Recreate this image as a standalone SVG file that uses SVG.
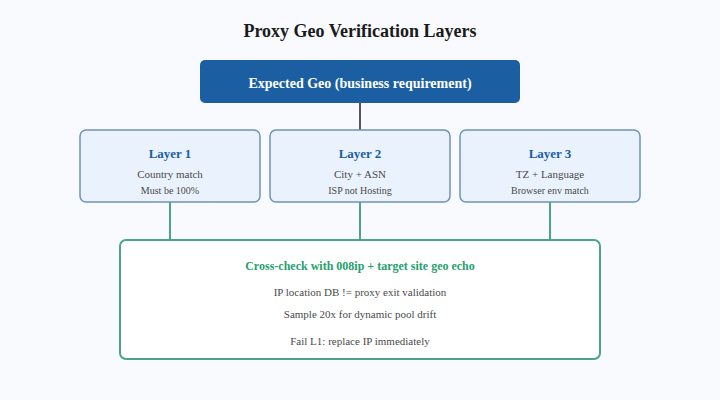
<svg xmlns="http://www.w3.org/2000/svg" width="720" height="400" viewBox="0 0 720 400">
<style>
text{font-family:"Liberation Serif","Times New Roman",serif;text-anchor:middle}
.title{font-size:18px;font-weight:bold;fill:#1a1a1a}
.top{fill:#1b5fa2}
.toptxt{font-size:14px;font-weight:bold;fill:#ffffff}
.layer{fill:#e9f2fd;stroke:#6f93b8;stroke-width:1.5}
.lt{font-size:13px;font-weight:bold;fill:#1b5fa2}
.l2{font-size:11px;fill:#4a4a4a}
.l3{font-size:10px;fill:#4a4a4a}
.bot{fill:#ffffff;stroke:#4aa585;stroke-width:2}
.bt{font-size:12px;font-weight:bold;fill:#26a06e}
.bl{font-size:11px;fill:#4a4a4a}
.gl{stroke:#4aa585;stroke-width:2;fill:none}
.dl{stroke:#555;stroke-width:2;fill:none}
</style>
<rect width="720" height="400" fill="#f8fafd"/>
<text class="title" x="360" y="37">Proxy Geo Verification Layers</text>
<g id="connectors">
<line class="dl" x1="360" y1="103" x2="360" y2="130"/>
<line class="gl" x1="170" y1="202" x2="170" y2="240"/>
<line class="gl" x1="360" y1="202" x2="360" y2="240"/>
<line class="gl" x1="550" y1="202" x2="550" y2="240"/>
</g>
<g id="expected">
<rect class="top" x="200" y="60" width="320" height="43" rx="5"/>
<text class="toptxt" x="360" y="88">Expected Geo (business requirement)</text>
</g>
<g id="layer1">
<rect class="layer" x="80" y="130" width="180" height="72" rx="6"/>
<text class="lt" x="170" y="158">Layer 1</text>
<text class="l2" x="170" y="178">Country match</text>
<text class="l3" x="170" y="194">Must be 100%</text>
</g>
<g id="layer2">
<rect class="layer" x="270" y="130" width="180" height="72" rx="6"/>
<text class="lt" x="360" y="158">Layer 2</text>
<text class="l2" x="360" y="178">City + ASN</text>
<text class="l3" x="360" y="194">ISP not Hosting</text>
</g>
<g id="layer3">
<rect class="layer" x="460" y="130" width="180" height="72" rx="6"/>
<text class="lt" x="550" y="158">Layer 3</text>
<text class="l2" x="550" y="178">TZ + Language</text>
<text class="l3" x="550" y="194">Browser env match</text>
</g>
<g id="crosscheck">
<rect class="bot" x="120" y="240" width="480" height="119" rx="6"/>
<text class="bt" x="360" y="270">Cross-check with 008ip + target site geo echo</text>
<text class="bl" x="360" y="296">IP location DB != proxy exit validation</text>
<text class="bl" x="360" y="318">Sample 20x for dynamic pool drift</text>
<text class="bl" x="360" y="345">Fail L1: replace IP immediately</text>
</g>
</svg>
